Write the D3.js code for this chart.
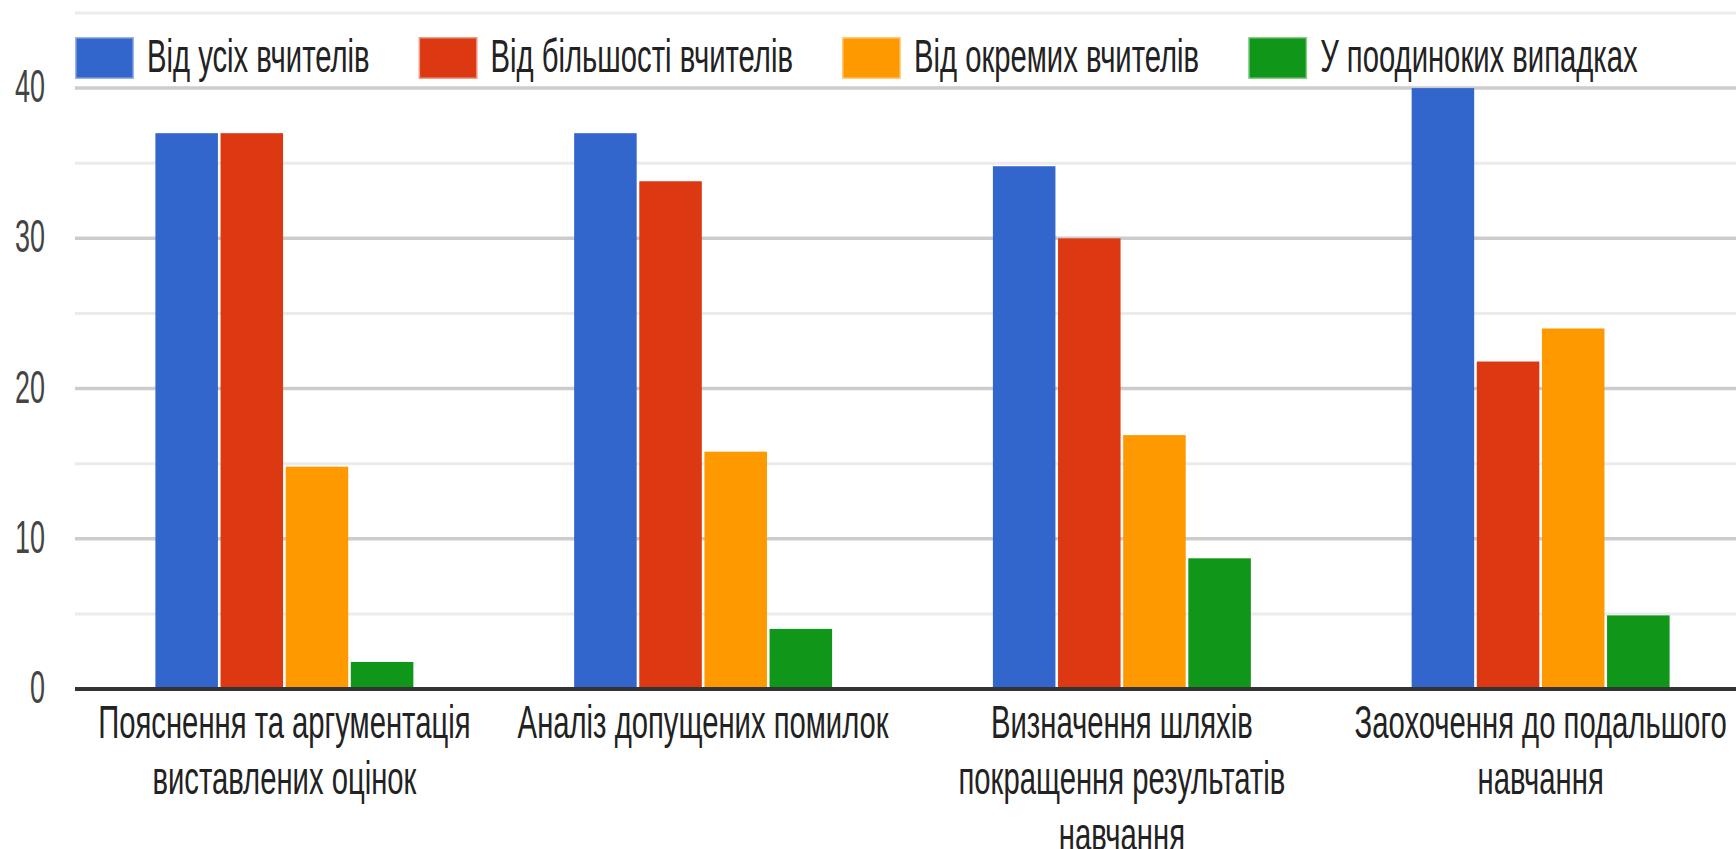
<!DOCTYPE html>
<html>
<head>
<meta charset="utf-8">
<script src="https://cdn.jsdelivr.net/npm/d3@7"></script>
<style>
  body { margin: 0; background: #fff; }
  svg { display: block; font-family: "Liberation Sans", Arial, sans-serif; }
</style>
</head>
<body>
<svg id="chart" width="1736" height="849"></svg>
<script>
// categories (already split in lines like in the picture)
var categories = [
  ["Пояснення та аргументація", "виставлених оцінок"],
  ["Аналіз допущених помилок"],
  ["Визначення шляхів", "покращення результатів", "навчання"],
  ["Заохочення до подальшого", "навчання"]
];
var seriesNames = ["Від усіх вчителів", "Від більшості вчителів", "Від окремих вчителів", "У поодиноких випадках"];
var seriesColors = ["#3366cc", "#dc3912", "#ff9900", "#109618"];

var allTeachers  = [37, 37, 34.8, 40];
var mostTeachers = [37, 33.8, 30, 21.8];
var someTeachers = [14.8, 15.8, 16.9, 24];
var rareCases    = [1.8, 4, 8.7, 4.9];

var yTicks = [0, 10, 20, 30, 40];
var yMinor = [5, 15, 25, 35, 45];

var series = [allTeachers, mostTeachers, someTeachers, rareCases];

var svg = d3.select("#chart"),
    width = +svg.attr("width"),
    height = +svg.attr("height");

var SX = 0.636;       // the picture is squeezed horizontally
var FONT = 46;

var plotLeft = 75, plotTop = 13, plotBottom = 689, plotRight = 1750;

var y = d3.scaleLinear().domain([0, 45]).range([plotBottom, plotTop]);
var x0 = d3.scaleBand().domain(d3.range(categories.length))
    .range([plotLeft, plotRight]).paddingInner(0.384).paddingOuter(0.192);
var x1 = d3.scaleBand().domain(d3.range(series.length))
    .range([0, x0.bandwidth()]).paddingInner(0.04);

function squeezed(g, x, yy, str, anchor, color, sx) {
  return g.append("text")
    .attr("transform", "translate(" + x + "," + yy + ") scale(" + (sx || SX) + ",1)")
    .attr("text-anchor", anchor)
    .attr("font-size", FONT)
    .attr("fill", color)
    .text(str);
}

// gridlines
var grid = svg.append("g");
grid.selectAll("line.minor").data(yMinor).enter().append("line")
  .attr("class", "minor")
  .attr("x1", plotLeft).attr("x2", width)
  .attr("y1", function(d) { return y(d); }).attr("y2", function(d) { return y(d); })
  .attr("stroke", "#ebebeb").attr("stroke-width", 3);
grid.selectAll("line.major").data(yTicks.filter(function(d) { return d > 0; })).enter().append("line")
  .attr("class", "major")
  .attr("x1", plotLeft).attr("x2", width)
  .attr("y1", function(d) { return y(d); }).attr("y2", function(d) { return y(d); })
  .attr("stroke", "#cccccc").attr("stroke-width", 3.5);

// y labels
var yl = svg.append("g");
yTicks.forEach(function(t) {
  squeezed(yl, 45, y(t) + 14, String(t), "end", "#444", 0.586);
});

// bars
var groups = svg.append("g").selectAll("g")
  .data(categories).enter().append("g")
  .attr("transform", function(d, i) { return "translate(" + x0(i) + ",0)"; });

groups.selectAll("rect")
  .data(function(d, i) { return series.map(function(s, k) { return {k: k, v: s[i]}; }); })
  .enter().append("rect")
  .attr("x", function(d) { return x1(d.k); })
  .attr("width", x1.bandwidth())
  .attr("y", function(d) { return y(d.v); })
  .attr("height", function(d) { return y(0) - y(d.v); })
  .attr("fill", function(d) { return seriesColors[d.k]; });

// baseline
svg.append("line")
  .attr("x1", plotLeft).attr("x2", width)
  .attr("y1", y(0)).attr("y2", y(0))
  .attr("stroke", "#333").attr("stroke-width", 4);

// category labels
var xl = svg.append("g");
categories.forEach(function(lines, i) {
  var cx = x0(i) + x0.bandwidth() / 2;
  lines.forEach(function(line, j) {
    squeezed(xl, cx, 738 + j * 56, line, "middle", "#222");
  });
});

// legend
var legend = svg.append("g");
var lx = plotLeft;
seriesNames.forEach(function(name, k) {
  legend.append("rect")
    .attr("x", lx + 1.5).attr("y", 38.5)
    .attr("width", 56).attr("height", 39)
    .attr("fill", seriesColors[k])
    .attr("stroke", seriesColors[k]).attr("stroke-opacity", 0.5)
    .attr("stroke-width", 3);
  var t = squeezed(legend, lx + 72, 72, name, "start", "#222");
  var w = t.node().getComputedTextLength() * SX;
  lx = lx + 72 + w + 49;
});
</script>
</body>
</html>
